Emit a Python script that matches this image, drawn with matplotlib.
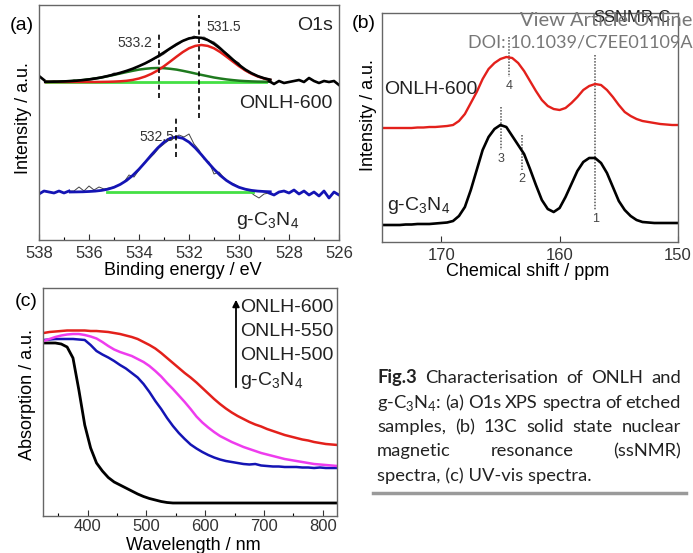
import numpy as np
import matplotlib
matplotlib.use("Agg")
import matplotlib.pyplot as plt

plt.rcParams["font.family"] = ["Liberation Sans", "DejaVu Sans"]

W, H = 693, 553

# ---------------- (a) O1s XPS ----------------
xps_raw_x = np.linspace(538, 526, 61)
onlh_raw = [6, 2, 0, 1, 0, 1, 0.5, 2, 1, 2.5, 3, 4, 3.5, 5.5, 6, 9, 8, 10, 12, 13,
            16, 18, 20, 23, 25, 28, 32, 35, 38, 42, 43, 46, 44, 45, 42, 40, 36, 31, 27, 22,
            19, 12, 9, 8, 5, 3, 1, -2, 1, -1, 0, 1, 2, 0, 4, 1, -1, 1, 0, 1, -3]
gcn_raw = [-2, 1, 0, -1, 1, -1, 1, 1, 5, 1, 6, 2, 5, 3, 4, 5, 7, 10, 17, 15,
           22, 29, 33, 38, 44, 48, 52, 54, 57, 55, 58, 48, 42, 33, 30, 18, 20, 14, 10, 8,
           5, 3, 1, -3, -6, -2, -1, -3, 0, 1, -1, 2, -2, 1, -3, 0, -4, 1, -6, 0, -3]

fit_x = np.linspace(537.75, 528.75, 37)
fit_red = [0, 0, 0, 0, 0, 0, 0, 0, 0, 0.1, 0.2, 0.4, 0.7, 1.2, 2.1, 3.5, 5.5, 8.2, 11.6,
           15.8, 20.5, 25.3, 29.9, 33.7, 36.1, 37.0, 36.1, 33.7, 29.9, 25.3, 20.5, 15.8,
           11.6, 8.2, 5.5, 3.5, 2.1]
fit_green = [0.2, 0.3, 0.4, 0.6, 0.9, 1.3, 1.9, 2.6, 3.5, 4.5, 5.8, 7.1, 8.5, 9.9, 11.2,
             12.4, 13.2, 13.8, 14.0, 13.8, 13.2, 12.4, 11.2, 9.9, 8.5, 7.1, 5.8, 4.5, 3.5,
             2.6, 1.9, 1.3, 0.9, 0.6, 0.4, 0.3, 0.2]
fit_sum = [0.2, 0.3, 0.4, 0.6, 0.9, 1.3, 1.9, 2.6, 3.5, 4.6, 6.0, 7.5, 9.2, 11.1, 13.3,
           15.9, 18.7, 22.0, 25.6, 29.6, 33.7, 37.7, 41.1, 43.6, 44.6, 44.1, 41.9, 38.2,
           33.4, 27.9, 22.4, 17.1, 12.5, 8.8, 5.9, 3.8, 2.3]
gfit_x = np.linspace(536.75, 528.75, 33)
gcn_fit = [0.0, 0.1, 0.2, 0.5, 0.9, 1.6, 2.8, 4.7, 7.6, 11.5, 16.6, 22.8, 29.8, 37.2,
           44.1, 49.9, 53.7, 55.0, 53.7, 49.9, 44.1, 37.2, 29.8, 22.8, 16.6, 11.5, 7.6,
           4.7, 2.8, 1.6, 0.9, 0.5, 0.2]
xps_peaks = [533.2, 531.6, 532.5]

# ---------------- (b) 13C ssNMR ----------------
shift = np.linspace(175, 150, 51)
nmr_onlh = [114, 114, 114, 114, 114, 114, 114.5, 114.5, 115, 115, 115.5, 116, 117, 121,
            128, 139, 150, 163, 173, 179, 183, 185, 184, 179, 171, 161, 151, 142, 136,
            133, 132, 134, 139, 145, 152, 156, 158, 157, 152, 145, 137, 130, 126, 123,
            121, 120, 119, 118, 117.5, 117, 117]
nmr_gcn = [17, 17, 17, 17, 17.5, 17.5, 18, 18, 18, 18.5, 19, 19.5, 21, 26, 35, 52, 72,
           92, 105, 113, 117, 115, 106, 97, 88, 73, 57, 42, 33, 30, 34, 45, 58, 71, 80,
           84, 84, 79, 69, 55, 41, 32, 26, 22, 20, 19.5, 19, 19, 19, 19, 19]
nmr_marks = [("4", 164.3, 205, 165), ("1", 157.0, 187, 32),
             ("3", 164.95, 135, 92), ("2", 163.2, 107, 72)]

# ---------------- (c) UV-vis ----------------
wl = np.arange(325, 826, 10)
uv_gcn = [172, 172, 172, 171, 168, 157, 125, 90, 67, 52, 44, 37.5, 33, 30, 27, 24, 21,
          18.5, 16.5, 15, 13.5, 12.5, 12] + [12] * 28
uv_500 = [175, 175.5, 176, 176, 176, 176, 175.5, 175, 170, 164, 160.5, 157.5, 154, 150,
          146.5, 142, 137.5, 131, 123, 114, 106, 97, 89, 82, 76, 70.5, 66.5, 63, 60,
          57.5, 55.5, 54, 53, 52, 51, 50.5, 51, 49.5, 49, 48.5, 48.5, 48, 48, 48, 47.5,
          47.5, 47, 47.5, 47, 47, 47]
uv_550 = [174, 176, 178, 179.5, 180.5, 181, 181, 180, 178.5, 176.5, 173, 169, 165.5,
          163, 161, 159, 156, 153, 149, 144, 138.5, 132, 126, 119.5, 113, 106, 98.5,
          92.5, 87.5, 83, 79, 76, 73, 70.5, 68, 66, 64, 62, 60.5, 59, 57.5, 56, 55, 54,
          53, 52, 51, 50.5, 50, 49.5, 49]
uv_600 = [182, 183, 183.5, 184, 184.5, 184.5, 184.5, 184.5, 184, 184, 183.5, 183, 182,
          181, 179.5, 178, 176, 173, 170, 166.5, 162, 157, 152, 147, 142, 137.5, 132.5,
          127, 121.5, 116, 111, 106.5, 102.5, 99, 96, 93, 90.5, 88.5, 86, 84, 82, 80,
          78.5, 77, 75.5, 74.5, 73, 72, 71, 70.5, 70]
uv_labels = ["ONLH-600", "ONLH-550", "ONLH-500", "g-C$_\\mathregular{3}$N$_\\mathregular{4}$"]

GCN = "g-C$_\\mathregular{3}$N$_\\mathregular{4}$"
RED = "#e3201b"
GREEN = "#1f7a1f"
LIME = "#44e044"
BLUE = "#1414b4"
MAGENTA = "#ee3cee"
CAP_FONT = ["Lato", "DejaVu Sans"]
CAP_SIZE = 13.2


def px_axes(left, top, right, bottom):
    return [left / W, 1 - bottom / H, (right - left) / W, (bottom - top) / H]


def style(ax, pad=4):
    for s in ax.spines.values():
        s.set_color("#666666")
        s.set_linewidth(1.0)
    ax.tick_params(axis="x", direction="in", labelsize=12, colors="#333333",
                   length=4, width=0.8, pad=pad)
    ax.tick_params(axis="x", which="minor", direction="in", length=2.5, width=0.8)
    ax.set_yticks([])


def ftext(x, y, s, **kw):
    kw.setdefault("va", "center")
    return fig.text(x / W, 1 - y / H, s, **kw)


fig = plt.figure(figsize=(W / 100, H / 100), dpi=100)

# panel (a)
ax = fig.add_axes(px_axes(39, 5, 339, 240))
style(ax)
off_top, off_bot = 158, 48
xr = np.array(xps_raw_x)
ax.plot(xr, np.array(onlh_raw) + off_top, color="#444444", lw=0.7)
ax.plot(xr, np.array(gcn_raw) + off_bot, color="#444444", lw=0.7)
edge_top = np.where((xr >= 537.75) | (xr <= 528.8), np.array(onlh_raw) + off_top, np.nan)
edge_bot = np.where((xr >= 536.75) | (xr <= 528.8), np.array(gcn_raw) + off_bot, np.nan)
ax.plot([537.7, 528.9], [off_top, off_top], color=LIME, lw=2)
ax.plot([535.3, 529.45], [off_bot, off_bot], color=LIME, lw=2)
ax.plot(fit_x, np.array(fit_green) + off_top, color=GREEN, lw=1.8)
ax.plot(fit_x, np.array(fit_red) + off_top, color=RED, lw=1.8)
ax.plot(fit_x, np.array(fit_sum) + off_top, color="black", lw=1.9)
ax.plot(xr, edge_top, color="black", lw=1.9)
ax.plot(gfit_x, np.array(gcn_fit) + off_bot, color=BLUE, lw=2.0)
ax.plot(xr, edge_bot, color=BLUE, lw=2.0)
for xp, (y0, y1) in zip(xps_peaks, [(142, 207), (122, 225), (83, 123)]):
    ax.plot([xp, xp], [y0, y1], color="black", lw=1.2, ls=(0, (3, 2)))
ax.text(533.45, 197, "533.2", ha="right", va="center", fontsize=10, color="#333333")
ax.text(531.3, 213, "531.5", ha="left", va="center", fontsize=10, color="#333333")
ax.text(532.6, 103, "532.5", ha="right", va="center", fontsize=10, color="#333333")
ax.text(526.25, 215, "O1s", ha="right", va="center", fontsize=14, color="#222222")
ax.text(526.25, 137, "ONLH-600", ha="right", va="center", fontsize=14, color="#222222")
ax.text(527.6, 19, GCN, ha="right", va="center", fontsize=14, color="#222222")
ax.set_xlim(538, 526)
ax.set_ylim(0, 235)
ax.set_xticks(np.arange(538, 525, -2))
ax.set_xticks(np.arange(537, 526, -2), minor=True)

# panel (b)
ax = fig.add_axes(px_axes(382, 13, 678, 242))
style(ax)
for lab, xs, y0, y1 in nmr_marks:
    ax.plot([xs, xs], [y0, y1], color="#555555", lw=1.1, ls=(0, (1, 1)))
    ax.text(xs, y1 - 9, lab, ha="center", va="center", fontsize=9, color="#444444")
ax.plot(shift, nmr_onlh, color=RED, lw=1.7)
ax.plot(shift, nmr_gcn, color="black", lw=1.9)
ax.text(174.8, 152, "ONLH-600", ha="left", va="center", fontsize=14, color="#222222")
ax.text(174.6, 37, GCN, ha="left", va="center", fontsize=14, color="#222222")
ax.text(150.6, 224, "SSNMR-C", ha="right", va="center", fontsize=12, color="#222222")
ax.set_xlim(175, 150)
ax.set_ylim(0, 229)
ax.set_xticks([170, 160, 150])

# panel (c)
ax = fig.add_axes(px_axes(43, 288, 337, 516))
style(ax, pad=2)
ax.plot(wl, uv_gcn, color="black", lw=2.0)
ax.plot(wl, uv_500, color=BLUE, lw=1.8)
ax.plot(wl, uv_550, color=MAGENTA, lw=1.8)
ax.plot(wl, uv_600, color=RED, lw=1.8)
ax.set_xlim(324, 824)
ax.set_ylim(-1, 227)
ax.set_xticks([400, 500, 600, 700, 800])
ax.set_xticks([350, 450, 550, 650, 750], minor=True)
ax.annotate("", xy=(236 / W, 1 - 297 / H), xytext=(236 / W, 1 - 390 / H),
            xycoords="figure fraction", textcoords="figure fraction",
            arrowprops=dict(arrowstyle="-|>", color="black", lw=1.3,
                            mutation_scale=10))
for i, lab in enumerate(uv_labels):
    ftext(240, 307 + 24.5 * i, lab, ha="left", fontsize=14, color="#222222")

# panel letters and axis titles
ftext(10, 25, "(a)", ha="left", fontsize=14)
ftext(352, 23, "(b)", ha="left", fontsize=14)
ftext(15, 302, "(c)", ha="left", fontsize=14)
ftext(183, 270, "Binding energy / eV", ha="center", fontsize=13)
ftext(528, 272, "Chemical shift / ppm", ha="center", fontsize=13)
ftext(193, 545, "Wavelength / nm", ha="center", fontsize=13)
ftext(23, 118, "Intensity / a.u.", ha="center", rotation=90, fontsize=13)
ftext(368, 115, "Intensity / a.u.", ha="center", rotation=90, fontsize=13)
ftext(27, 395, "Absorption / a.u.", ha="center", rotation=90, fontsize=13)

# watermark
ftext(692, 20, "View Article Online", ha="right", fontsize=14.5, color="#777777",
      family="Lato")
ftext(692, 43, "DOI: 10.1039/C7EE01109A", ha="right", fontsize=13, color="#777777",
      family="Lato")

# caption, justified
renderer = fig.canvas.get_renderer()


def justify(words, y, x0, x1, bold_first=False):
    items = []
    for i, w in enumerate(words):
        t = fig.text(0, 1 - y / H, w, fontsize=CAP_SIZE, family=CAP_FONT,
                     weight="bold" if (bold_first and i == 0) else "normal",
                     va="center", color="#222222")
        items.append(t)
    widths = [t.get_window_extent(renderer).width for t in items]
    gap = ((x1 - x0) - sum(widths)) / (len(items) - 1)
    x = x0
    for t, wd in zip(items, widths):
        t.set_x(x / W)
        x += wd + gap


justify(["Fig.3", "Characterisation", "of", "ONLH", "and"], 378, 377, 681, True)
justify([GCN + ":", "(a)", "O1s", "XPS", "spectra", "of", "etched"], 403, 377, 681)
justify(["samples,", "(b)", "13C", "solid", "state", "nuclear"], 427, 377, 681)
justify(["magnetic", "resonance", "(ssNMR)"], 451, 377, 681)
ftext(377, 476, "spectra, (c) UV-vis spectra.", ha="left", fontsize=CAP_SIZE,
      family=CAP_FONT, color="#222222")
fig.add_artist(plt.Line2D([373 / W, 686 / W], [1 - 493 / H, 1 - 493 / H],
                          color="#9a9a9a", lw=2.5))

fig.savefig("out.png", dpi=100, facecolor="white")
